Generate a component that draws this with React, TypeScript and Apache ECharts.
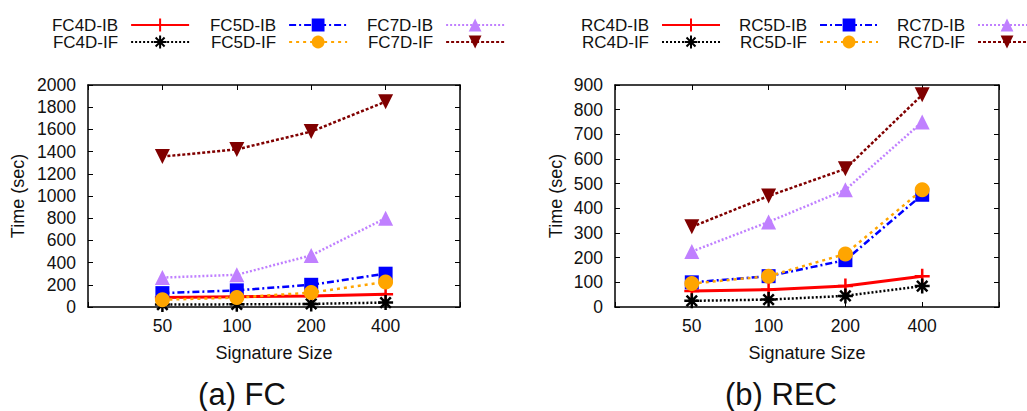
import { useEffect, useRef } from 'react';
import * as echarts from 'echarts';

// Signature sizes on the x axis (placed at slots 1..4 of a 0..5 axis)
const sizeLabels = ['50', '100', '200', '400'];
const sizeSlots = [1, 2, 3, 4];

// FC experiment: running time in seconds
const fcNames = ['FC4D-IB', 'FC4D-IF', 'FC5D-IB', 'FC5D-IF', 'FC7D-IB', 'FC7D-IF'];
const fc4dIB = [85, 92, 100, 115];
const fc4dIF = [22, 24, 28, 40];
const fc5dIB = [125, 150, 200, 300];
const fc5dIF = [65, 85, 130, 225];
const fc7dIB = [265, 290, 465, 800];
const fc7dIF = [1355, 1420, 1580, 1850];

// REC experiment: running time in seconds
const rcNames = ['RC4D-IB', 'RC4D-IF', 'RC5D-IB', 'RC5D-IF', 'RC7D-IB', 'RC7D-IF'];
const rc4dIB = [65, 70, 85, 125];
const rc4dIF = [25, 30, 45, 85];
const rc5dIB = [100, 125, 190, 455];
const rc5dIF = [95, 125, 215, 475];
const rc7dIB = [225, 345, 475, 750];
const rc7dIF = [325, 450, 560, 860];

const captions = ['(a) FC', '(b) REC'];

const FONT = '"Liberation Sans", Arial, Helvetica, sans-serif';
const INK = '#111';

const PLUS = 'path://M0,5L10,5M5,0L5,10';
const STAR = 'path://M0,5L10,5M5,0L5,10M1.5,1.5L8.5,8.5M8.5,1.5L1.5,8.5';
const TRI_UP = 'path://M5,0L10,8.5L0,8.5Z';
const TRI_DOWN = 'path://M0,0L10,0L5,8.5Z';

// one look per variant, shared by both panels
const looks = [
  { color: '#ff0000', dash: 'solid', width: 3, symbol: PLUS, size: 15, stroked: true },
  { color: '#000000', dash: [2, 2], width: 2.5, symbol: STAR, size: 15, stroked: true },
  { color: '#0000ff', dash: [7, 3, 2, 3], width: 2.5, symbol: 'rect', size: 14, stroked: false },
  { color: '#ffa500', dash: [3, 4], width: 2.5, symbol: 'circle', size: 15, stroked: false },
  { color: '#c080ff', dash: [2, 2], width: 2.5, symbol: TRI_UP, size: 15, stroked: false },
  { color: '#800000', dash: [3, 2], width: 2.5, symbol: TRI_DOWN, size: 15, stroked: false },
];

function makeSeries(names: string[], values: number[][], axis: number) {
  return names.map((name, k) => {
    const lk = looks[k];
    return {
      name,
      type: 'line',
      xAxisIndex: axis,
      yAxisIndex: axis,
      data: sizeSlots.map((x, i) => [x, values[k][i]]),
      symbol: lk.symbol,
      symbolSize: lk.size,
      lineStyle: { color: lk.color, width: lk.width, type: lk.dash },
      itemStyle: lk.stroked
        ? { color: lk.color, borderColor: lk.color, borderWidth: 2.5 }
        : { color: lk.color, borderWidth: 0 },
      emphasis: { disabled: true },
      z: 2 + k,
    };
  });
}

const boxLine = { show: true, onZero: false, lineStyle: { color: '#000', width: 1.5 } };
const inTick = { show: true, inside: true, length: 5, lineStyle: { color: '#000', width: 1 } };

function xAxes(grid: number) {
  return [
    {
      type: 'value', gridIndex: grid, position: 'bottom', min: 0, max: 5, interval: 1,
      axisLine: boxLine, axisTick: inTick, splitLine: { show: false },
      axisLabel: {
        margin: 10, color: INK, fontFamily: FONT, fontSize: 17.5,
        formatter: (v: number) => (v >= 1 && v <= 4 ? sizeLabels[v - 1] : ''),
      },
      name: 'Signature Size', nameLocation: 'middle', nameGap: 37,
      nameTextStyle: { color: INK, fontFamily: FONT, fontSize: 18 },
    },
    {
      type: 'value', gridIndex: grid, position: 'top', min: 0, max: 5, interval: 1,
      axisLine: boxLine, axisTick: inTick, splitLine: { show: false }, axisLabel: { show: false },
    },
  ];
}

function yAxes(grid: number, max: number, step: number, gap: number) {
  return [
    {
      type: 'value', gridIndex: grid, position: 'left', min: 0, max, interval: step,
      axisLine: boxLine, axisTick: inTick, splitLine: { show: false },
      axisLabel: {
        margin: 12, color: INK, fontFamily: FONT, fontSize: 17.5,
        formatter: (v: number) => String(v),
      },
      name: 'Time (sec)', nameLocation: 'middle', nameGap: gap, nameRotate: 90,
      nameTextStyle: { color: INK, fontFamily: FONT, fontSize: 18 },
    },
    {
      type: 'value', gridIndex: grid, position: 'right', min: 0, max, interval: step,
      axisLine: boxLine, axisTick: inTick, splitLine: { show: false }, axisLabel: { show: false },
    },
  ];
}

function legend(names: string[], left: number) {
  return {
    orient: 'vertical',
    left,
    top: 11,
    align: 'right',
    itemWidth: 58,
    itemHeight: 16,
    itemGap: -1,
    selectedMode: false,
    data: names,
    formatter: (name: string) => `${name}{gap|}`,
    textStyle: {
      color: INK, fontFamily: FONT, fontSize: 17, lineHeight: 18,
      rich: { gap: { width: 8, lineHeight: 18 } },
    },
  };
}

export default function App() {
  const ref = useRef<HTMLDivElement>(null);

  useEffect(() => {
    if (!ref.current) return;
    const chart = echarts.init(ref.current, undefined, { renderer: 'svg' });

    const fcValues = [fc4dIB, fc4dIF, fc5dIB, fc5dIF, fc7dIB, fc7dIF];
    const rcValues = [rc4dIB, rc4dIF, rc5dIB, rc5dIF, rc7dIB, rc7dIF];

    chart.setOption({
      animation: false,
      backgroundColor: '#fff',
      textStyle: { fontFamily: FONT },
      grid: [
        { left: 88, top: 85, width: 372, height: 222 },
        { left: 615, top: 85, width: 384, height: 222 },
      ],
      xAxis: [...xAxes(0), ...xAxes(1)],
      yAxis: [...yAxes(0, 2000, 200, 61), ...yAxes(1, 900, 100, 50)],
      legend: [
        legend(fcNames.slice(0, 2), 47),
        legend(fcNames.slice(2, 4), 205),
        legend(fcNames.slice(4, 6), 362),
        legend(rcNames.slice(0, 2), 576),
        legend(rcNames.slice(2, 4), 734),
        legend(rcNames.slice(4, 6), 892),
      ],
      series: [...makeSeries(fcNames, fcValues, 0), ...makeSeries(rcNames, rcValues, 2)],
      graphic: [
        {
          type: 'text', x: 242, y: 394,
          style: { text: captions[0], fill: INK, font: `31px ${FONT}`, align: 'center', verticalAlign: 'middle' },
        },
        {
          type: 'text', x: 781, y: 394,
          style: { text: captions[1], fill: INK, font: `31px ${FONT}`, align: 'center', verticalAlign: 'middle' },
        },
      ],
    });

    return () => chart.dispose();
  }, []);

  return (
    <div
      ref={ref}
      style={{ position: 'fixed', left: 0, top: 0, width: 1027, height: 411, background: '#fff' }}
    />
  );
}
